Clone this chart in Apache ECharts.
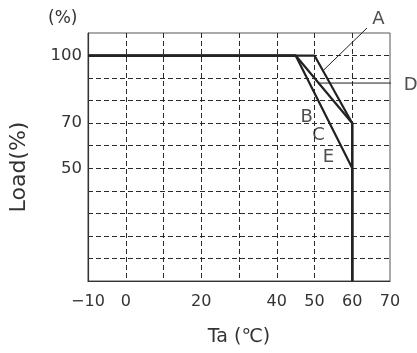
<!DOCTYPE html>
<html>
<head>
<meta charset="utf-8">
<script src="https://cdn.jsdelivr.net/npm/echarts@6/dist/echarts.min.js"></script>
<style>
  html, body { margin: 0; padding: 0; background: #fff; }
  #chart { width: 417px; height: 353px; }
</style>
</head>
<body>
<div id="chart"></div>
<script>
// Derating curves: load (%) versus ambient temperature Ta (°C)
const xLabelled = [-10, 0, 20, 40, 50, 60, 70];
const yLabelled = [100, 70, 50];

const curveA = [[-10, 100], [50, 100], [60, 70], [60, 0]];
const curveBCD = [[-10, 100], [45, 100], [60, 70], [60, 0]];
const curveE = [[-10, 100], [45, 100], [60, 50], [60, 0]];

// Leader lines for the A and D tags
const leaderA = [[52.2, 93.2], [63.9, 112.2]];
const leaderD = [[51.2, 87.8], [72.8, 87.8]];

const tagNames = ['A', 'B', 'C', 'D', 'E'];
const tagPositions = [[66.9, 116.2], [47.9, 72.6], [51.1, 64.6], [75.5, 86.6], [53.7, 54.9]];

const FONT = '"DejaVu Sans", "Noto Sans", sans-serif';
const INK = '#222';
const TEXT = '#333';

const chart = echarts.init(document.getElementById('chart'), null, { renderer: 'canvas' });

const curveSeries = (name, data) => ({
  name, type: 'line', data, symbol: 'none', silent: true,
  lineStyle: { color: INK, width: 2.2 }, z: 3
});

const gridDash = { color: '#2a2a2a', width: 1, type: [5, 3] };

chart.setOption({
  animation: false,
  backgroundColor: '#fff',
  grid: {
    left: 88, right: 27, top: 33, bottom: 72,
    outerBoundsMode: 'none', containLabel: false,
    show: true, borderColor: '#555', borderWidth: 1
  },
  xAxis: {
    type: 'value', min: -10, max: 70, interval: 10,
    name: 'Ta (℃)', nameLocation: 'middle', nameGap: 47,
    nameTextStyle: { fontFamily: FONT, fontSize: 19, color: TEXT },
    axisLine: { show: true, onZero: false, lineStyle: { color: '#333', width: 1.2 } },
    axisTick: { show: false },
    axisLabel: {
      margin: 13, fontFamily: FONT, fontSize: 16, color: TEXT,
      formatter: v => xLabelled.includes(v) ? String(v).replace('-', '\u2212') : ''
    },
    splitLine: { show: true, showMinLine: false, showMaxLine: false, lineStyle: gridDash }
  },
  yAxis: {
    type: 'value', min: 0, max: 110, interval: 10,
    name: 'Load(%)', nameLocation: 'middle', nameGap: 58, nameRotate: 90,
    nameTextStyle: { fontFamily: FONT, fontSize: 22, color: TEXT, padding: [0, 0, 0, -20] },
    axisLine: { show: true, onZero: false, lineStyle: { color: '#333', width: 1.2 } },
    axisTick: { show: false },
    axisLabel: {
      margin: 6, fontFamily: FONT, fontSize: 16.5, color: TEXT,
      formatter: v => yLabelled.includes(v) ? String(v) : ''
    },
    splitLine: { show: true, showMinLine: false, showMaxLine: false, lineStyle: gridDash }
  },
  graphic: [{
    type: 'text', left: 48, top: 10,
    style: { text: '(%)', font: '17px ' + FONT, fill: TEXT }
  }],
  series: [
    curveSeries('A', curveA),
    curveSeries('B/C/D', curveBCD),
    curveSeries('E', curveE),
    {
      type: 'line', data: leaderA, symbol: 'none', silent: true, clip: false,
      lineStyle: { color: INK, width: 1 }
    },
    {
      type: 'line', data: leaderD, symbol: 'none', silent: true, clip: false,
      lineStyle: { color: INK, width: 1 }
    },
    {
      type: 'scatter', silent: true, clip: false, symbolSize: 0,
      data: tagNames.map((n, i) => ({ name: n, value: tagPositions[i] })),
      label: {
        show: true, position: 'inside', formatter: p => p.name,
        fontFamily: FONT, fontSize: 18, color: INK
      }
    }
  ]
});
</script>
</body>
</html>
